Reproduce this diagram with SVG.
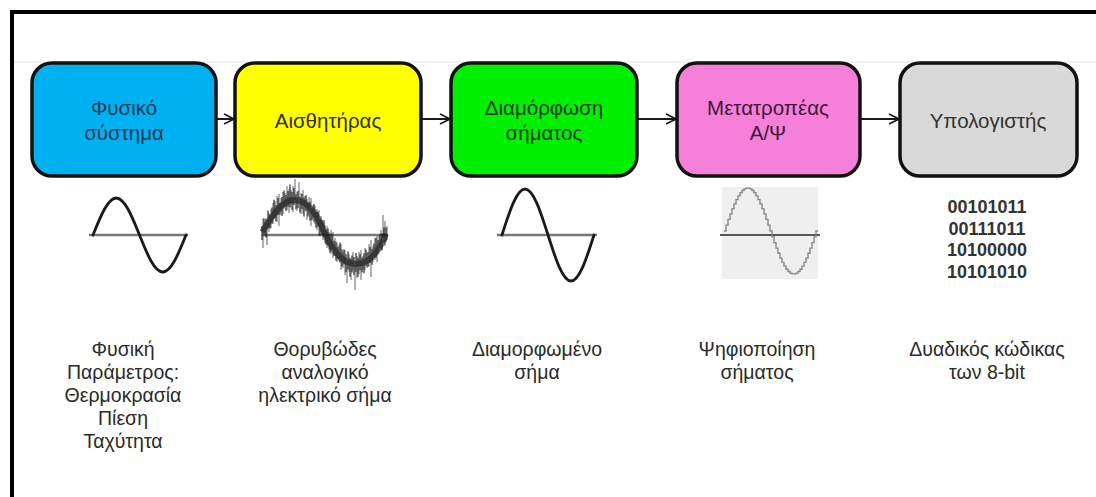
<svg xmlns="http://www.w3.org/2000/svg" width="1096" height="497" viewBox="0 0 1096 497">
<style>
.box{stroke:#111;stroke-width:3.5}
.bt{font-family:"Liberation Sans",Arial,sans-serif;font-size:20.5px;text-anchor:middle}
.lb{font-family:"Liberation Sans",Arial,sans-serif;font-size:19.5px;fill:#2a2a2a;text-anchor:middle}
.bin{font-family:"Liberation Sans",Arial,sans-serif;font-size:18px;font-weight:bold;fill:#333;text-anchor:middle}
.con{stroke:#1a1a1a;stroke-width:2;fill:none}
.axis{stroke:#777;stroke-width:2.5;fill:none}
.wave{stroke:#1a1a1a;stroke-width:2.8;fill:none;stroke-linecap:round}
</style>
<defs>
<marker id="arr" viewBox="0 0 12 12" refX="11" refY="6" markerWidth="12" markerHeight="12" markerUnits="userSpaceOnUse" orient="auto">
<path d="M1,1 L11,6 L1,11" fill="none" stroke="#1a1a1a" stroke-width="1.6"/>
</marker>
</defs>
<rect width="1096" height="497" fill="#fff"/>
<line x1="14" y1="62" x2="1096" y2="62" stroke="#efefef" stroke-width="1.5"/>
<path d="M12,497 V12 H1096" fill="none" stroke="#000" stroke-width="4"/>

<g id="connectors">
<line class="con" x1="217" y1="119" x2="234" y2="119" marker-end="url(#arr)"/>
<line class="con" x1="422" y1="119" x2="450" y2="119" marker-end="url(#arr)"/>
<line class="con" x1="638" y1="119" x2="676" y2="119" marker-end="url(#arr)"/>
<line class="con" x1="861" y1="119" x2="899" y2="119" marker-end="url(#arr)"/>
</g>

<g id="node-fysiko">
<rect class="box" x="32" y="63" width="184" height="113" rx="20" fill="#00B0F0"/>
<text class="bt" fill="#183a5a" x="124" y="115">Φυσικό</text>
<text class="bt" fill="#183a5a" x="124" y="140">σύστημα</text>
</g>
<g id="node-aisthitiras">
<rect class="box" x="235" y="63" width="186" height="113" rx="20" fill="#FFFF00"/>
<text class="bt" fill="#333" x="328" y="128">Αισθητήρας</text>
</g>
<g id="node-diamorfosi">
<rect class="box" x="451" y="63" width="186" height="113" rx="20" fill="#00F000"/>
<text class="bt" fill="#0d3d10" x="544" y="115">Διαμόρφωση</text>
<text class="bt" fill="#0d3d10" x="544" y="140">σήματος</text>
</g>
<g id="node-metatropeas">
<rect class="box" x="677" y="63" width="183" height="113" rx="20" fill="#F57FD9"/>
<text class="bt" fill="#3f1838" x="768" y="115">Μετατροπέας</text>
<text class="bt" fill="#3f1838" x="768" y="140">Α/Ψ</text>
</g>
<g id="node-ypologistis">
<rect class="box" x="900" y="63" width="177" height="113" rx="20" fill="#D9D9D9"/>
<text class="bt" fill="#333" x="988" y="128">Υπολογιστής</text>
</g>

<g id="wave-sine1">
<line class="axis" x1="89" y1="235" x2="188" y2="235"/>
<path class="wave" d="M93,235 C100.6,216.1 107.8,198 116.25,198 C124.7,198 131.9,216.1 139.5,235 C147.1,253.9 154.3,272 162.75,272 C171.2,272 178.4,253.9 186,235"/>
</g>

<g id="wave-noisy">
<line class="axis" x1="262" y1="235" x2="388" y2="235"/>
<path d="M262,232 C270,221 280,200 294,200 C310,200 320,221 324,232 C330,245 340,264 356,264 C372,264 382,245 386,234" fill="none" stroke="#111" stroke-width="6" opacity="0.55"/>
<path fill="none" stroke="#111" stroke-width="1.2" opacity="0.9" d="M262,226V240M264,218.8V233.8M266,218.6V237.6M268,210.5V228.5M270,214.5V228.5M272,207.6V223.6M274,199.8V218.8M276,205.3V221.3M278,198V215M280,202.8V214.8M282,197V216M284,190.4V208.4M286,195.1V211.1M288,191.1V207.1M290,184.4V207.4M292,192.1V210.1M294,188V205M296,194.3V209.3M298,190.9V207.9M300,196.8V212.8M302,194V209M304,197.6V216.6M306,195.3V211.3M308,202.4V216.4M310,201.7V220.7M312,208.2V220.2M314,203.9V221.9M316,211.7V227.7M318,211.7V226.7M320,218.8V235.8M322,220V235M324,220.2V237.2M326,229.4V244.4M328,228.6V245.6M330,233.8V252.8M332,233.8V249.8M334,240.7V255.7M336,241.5V260.5M338,247V259M340,242.4V262.4M342,249.6V266.6M344,249.5V264.5M346,254.2V272.2M348,251.6V269.6M350,257.7V276.7M352,255.4V272.4M354,256.9V274.9M356,253V272M358,257.8V276.8M360,254.2V270.2M362,257.4V272.4M364,253.2V273.2M366,249.8V265.8M368,252V267M370,247V263M372,248.8V264.8M374,243.4V257.4M376,237.8V257.8M378,240.1V254.1M380,234.2V248.2M382,233.2V250.2M384,227.2V243.2M386,227.6V241.6"/>
<path fill="none" stroke="#222" stroke-width="1" opacity="0.7" d="M263,218V248M265,222V236M267,220V245M269,213V232M271,209V228M273,203V224M275,201V218M277,196V222M279,194V226M281,198V212M283,192V214M285,193V206M287,186V210M289,189V213M291,190V204M293,186V212M295,179V200M297,192V211M299,182V198M301,193V214M303,190V214M305,196V210M307,199V220M309,197V215M311,198V226M313,205V218M315,206V224M317,209V230M319,210V236M321,216V232M323,222V240M325,225V243M327,226V248M329,232V250M331,230V254M333,232V258M335,238V256M337,243V262M339,245V261M341,244V270M343,252V268M345,250V275M347,262V283M349,254V272M351,259V280M353,252V270M355,265V290M357,256V278M359,252V274M361,250V280M363,256V270M365,248V270M367,253V268M369,244V266M371,240V277M373,246V262M375,238V260M377,236V262M379,236V252M381,230V250M383,215V237M385,221V246M387,226V240"/>
</g>

<g id="wave-sine2">
<line class="axis" x1="497" y1="235" x2="597" y2="235"/>
<path class="wave" d="M502,235 C509.5,211.4 516.7,189 525,189 C533.3,189 540.5,211.4 548,235 C555.5,258.6 562.7,281 571,281 C579.3,281 586.5,258.6 594,235"/>
</g>

<g id="wave-stepped">
<rect x="722" y="187" width="96" height="92" fill="#efefef"/>
<line x1="720" y1="235" x2="820" y2="235" stroke="#555" stroke-width="2"/>
<path fill="none" stroke="#888" stroke-width="1.4" d="M724,231 H726 V225.1 H728 V219.4 H730 V213.9 H732 V208.7 H734 V203.9 H736 V199.6 H738 V195.9 H740 V192.8 H742 V190.5 H744 V188.9 H746 V188.1 H748 V188.1 H750 V188.9 H752 V190.5 H754 V192.8 H756 V195.9 H758 V199.6 H760 V203.9 H762 V208.7 H764 V213.9 H766 V219.4 H768 V225.1 H770 V231 H772 V236.9 H774 V242.6 H776 V248.1 H778 V253.3 H780 V258.1 H782 V262.4 H784 V266.1 H786 V269.2 H788 V271.5 H790 V273.1 H792 V273.9 H794 V273.9 H796 V273.1 H798 V271.5 H800 V269.2 H802 V266.1 H804 V262.4 H806 V258.1 H808 V253.3 H810 V248.1 H812 V242.6 H814 V236.9 H816 V231 H818"/>
</g>

<g id="binary">
<text class="bin" x="987" y="213">00101011</text>
<text class="bin" x="987" y="235">00111011</text>
<text class="bin" x="987" y="256">10100000</text>
<text class="bin" x="987" y="278">10101010</text>
</g>

<g id="labels">
<text class="lb" x="123" y="356">Φυσική</text>
<text class="lb" x="123" y="379">Παράμετρος:</text>
<text class="lb" x="123" y="402">Θερμοκρασία</text>
<text class="lb" x="123" y="425">Πίεση</text>
<text class="lb" x="123" y="448">Ταχύτητα</text>
<text class="lb" x="325" y="356">Θορυβώδες</text>
<text class="lb" x="325" y="379">αναλογικό</text>
<text class="lb" x="325" y="402">ηλεκτρικό σήμα</text>
<text class="lb" x="537" y="356">Διαμορφωμένο</text>
<text class="lb" x="537" y="379">σήμα</text>
<text class="lb" x="757" y="356">Ψηφιοποίηση</text>
<text class="lb" x="757" y="379">σήματος</text>
<text class="lb" x="987" y="356">Δυαδικός κώδικας</text>
<text class="lb" x="987" y="379">των 8-bit</text>
</g>
</svg>
